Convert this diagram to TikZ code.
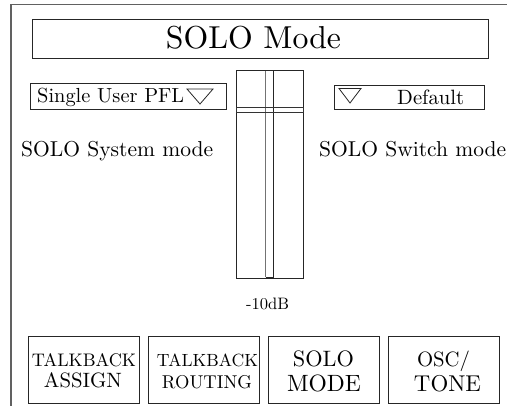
\documentclass[tikz,border=0pt]{standalone}
\usepackage{fontspec}
\usepackage{graphicx}
% set a text to a fixed printed width
\newcommand\fitto[2]{\resizebox{#1}{!}{#2}}
\begin{document}
\begin{tikzpicture}[x=1pt,y=-1pt,
  frame/.style={draw=black!62, line width=1.4pt},
  box/.style={draw=black!85, line width=1pt, inner sep=0pt, fill=none},
  btn/.style={box, minimum width=111pt, minimum height=67pt},
  lbl/.style={inner sep=0pt, anchor=base west},
  ctr/.style={inner sep=0pt, anchor=base},
  tri/.style={draw=black!85, line width=0.8pt, line join=miter}]
\useasboundingbox (0,0) rectangle (507,406);

% outer panel frame, open towards the right and bottom
\coordinate (fr-bl) at (11,412);
\coordinate (fr-tr) at (512,4.5);
\draw[frame] (fr-bl) |- (fr-tr);

% title bar
\node[box, minimum width=456pt, minimum height=39pt] (title) at (260,39.5) {};
\node[ctr] (title-txt) at (253.5,49) {\fitto{175pt}{SOLO Mode}};

% left drop-down: system mode
\node[box, minimum width=196pt, minimum height=26pt] (sysdd) at (128,97) {};
\node[lbl] (sysdd-txt) at (37,103) {\fitto{147pt}{Single User PFL}};
\draw[tri] (187,89) -- (213,89) -- (200,104) -- cycle;
\node[lbl] (sys-lbl) at (21,157) {\fitto{192pt}{SOLO System mode}};

% right drop-down: switch mode
\node[box, minimum width=150pt, minimum height=24pt] (swdd) at (409.5,98) {};
\draw[tri] (339,88.5) -- (361,88.5) -- (350,103) -- cycle;
\node[lbl] (swdd-txt) at (397,104.5) {\fitto{67pt}{Default}};
\node[lbl] (sw-lbl) at (319,157) {\fitto{187pt}{SOLO Switch mode}};

% level fader
\node[box, minimum width=67pt, minimum height=208pt] (fader) at (269.5,175) {};
\draw[draw=black!55, line width=1pt] (265.5,71) -- (265.5,277);
\draw[draw=black!85, line width=0.9pt] (265.5,277) -| (273,71);
\node[draw=black!80, line width=0.9pt, inner sep=0pt,
      minimum width=67pt, minimum height=5pt] (cap) at (269.5,109.5) {};
\node[ctr] (level) at (267.5,310) {\fitto{43pt}{-10dB}};

% page buttons
\node[btn] (b1) at (83.5,370.5) {};
\node[btn] (b2) at (204,370.5) {};
\node[btn] (b3) at (324,370.5) {};
\node[btn] (b4) at (444,370.5) {};
\node[ctr] (b1-l1) at (84,367) {\fitto{104pt}{TALKBACK}};
\node[ctr] (b1-l2) at (83,388) {\fitto{78pt}{ASSIGN}};
\node[ctr] (b2-l1) at (207.5,367) {\fitto{101pt}{TALKBACK}};
\node[ctr] (b2-l2) at (207,389) {\fitto{90pt}{ROUTING}};
\node[ctr] (b3-l1) at (323.5,367) {\fitto{61pt}{SOLO}};
\node[ctr] (b3-l2) at (324,391.5) {\fitto{74pt}{MODE}};
\node[ctr] (b4-l1) at (443.5,367) {\fitto{53pt}{OSC/}};
\node[ctr] (b4-l2) at (447.5,391.5) {\fitto{67pt}{TONE}};
\end{tikzpicture}
\end{document}
